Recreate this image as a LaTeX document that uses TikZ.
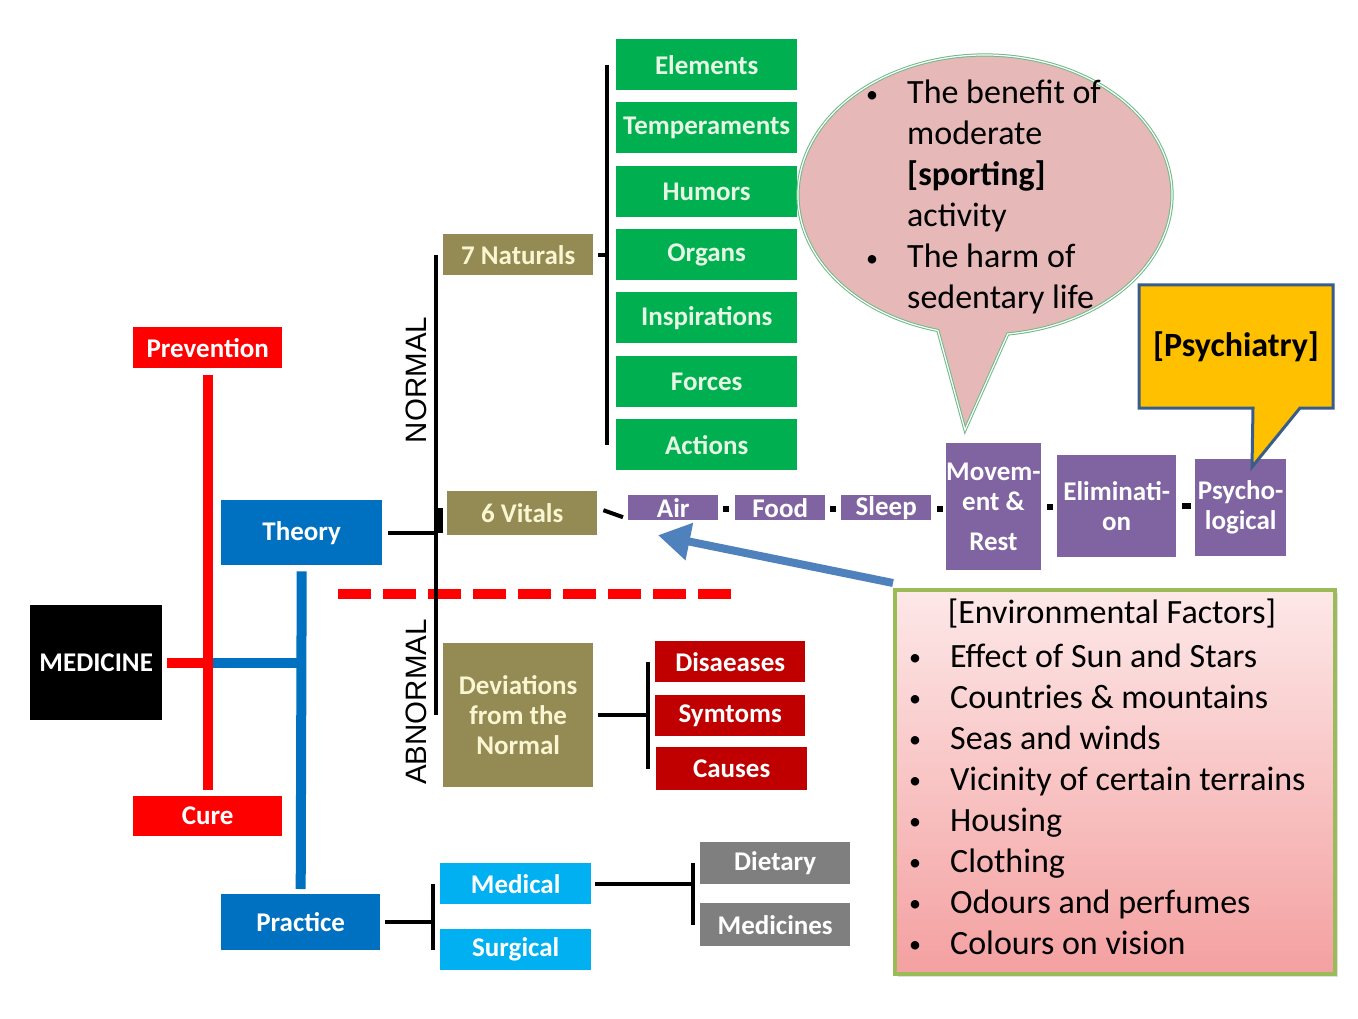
\documentclass[tikz,border=0pt]{standalone}
\usepackage{fontspec}
\setmainfont{Carlito}
\newfontfamily\arialf{Liberation Sans}
\usetikzlibrary{arrows.meta,calc,shadows}

\definecolor{cred}{HTML}{FF0000}
\definecolor{cblue}{HTML}{0070C0}
\definecolor{colive}{HTML}{948A54}
\definecolor{ccream}{HTML}{FAF6D2}
\definecolor{cgreen}{HTML}{00B050}
\definecolor{cmint}{HTML}{E6F7E4}
\definecolor{cpurple}{HTML}{8064A2}
\definecolor{cdred}{HTML}{C00000}
\definecolor{ccyan}{HTML}{00B0F0}
\definecolor{cgrey}{HTML}{7F7F7F}
\definecolor{cyellow}{HTML}{FFC000}
\definecolor{cyborder}{HTML}{385D8A}
\definecolor{cbubble}{HTML}{E6B9B8}
\definecolor{cbubbord}{HTML}{6DBA86}
\definecolor{cenvbord}{HTML}{9BBB59}
\definecolor{cenvtop}{HTML}{FDE8E8}
\definecolor{cenvbot}{HTML}{F4A0A0}
\definecolor{carrow}{HTML}{4F81BD}

\newcommand{\smbul}{\raisebox{1.5pt}{\fontsize{24}{24}\selectfont\textbullet}}

\tikzset{
 lbl/.style={font=\bfseries\fontsize{27}{30}\selectfont, inner sep=0pt, anchor=north west, align=center},
 blackbox/.style={lbl, fill=black, text=white},
 redbox/.style={lbl, fill=cred, text=white},
 bluebox/.style={lbl, fill=cblue, text=white},
 olivebox/.style={lbl, fill=colive, text=ccream},
 greenbox/.style={lbl, fill=cgreen, text=cmint, minimum width=181pt, minimum height=51pt},
 purplebox/.style={lbl, fill=cpurple, text=white},
 dredbox/.style={lbl, fill=cdred, text=white, minimum width=150pt},
 cyanbox/.style={lbl, fill=ccyan, text=white, minimum width=151pt, minimum height=41pt},
 greybox/.style={lbl, fill=cgrey, text=white, minimum width=150pt},
 redline/.style={draw=cred, line width=10pt},
 blueline/.style={draw=cblue, line width=10pt},
 blackline/.style={draw=black, line width=4pt},
 dotlink/.style={draw=black, line width=6pt},
 bodytext/.style={font=\fontsize{34}{41}\selectfont, inner sep=0pt},
 sidelabel/.style={font=\arialf\fontsize{29.5}{30}\selectfont, inner sep=0pt, rotate=90},
}

\begin{document}
\begin{tikzpicture}[x=1pt,y=-1pt]
\useasboundingbox (0,0) rectangle (1358,1019);
\fill[white] (0,0) rectangle (1358,1019);

% ---------- left part ----------
\node[blackbox, minimum width=132pt, minimum height=115pt] (med) at (30,605) {MEDICINE};
\node[redbox, minimum width=149pt, minimum height=41pt] (prev) at (133,327) {Prevention};
\node[redbox, minimum width=149pt, minimum height=40pt] (cure) at (133,796) {Cure};
\node[bluebox, minimum width=161pt, minimum height=65pt] (theory) at (221,500) {Theory};
\node[bluebox, minimum width=159pt, minimum height=56pt] (practice) at (221,894) {Practice};

\draw[redline] ([yshift=-7pt]prev.south) -- ([yshift=6pt]cure.north);
\draw[redline] ([xshift=5pt]med.east) -- ([xshift=5pt]med.east -| prev.south);
\draw[blueline] ([xshift=5pt]med.east -| prev.south) -- ([xshift=4pt]med.east -| theory.south);
\draw[blueline] ([yshift=-6pt]theory.south) -- ([yshift=5pt]practice.north);

% ---------- middle: normal / abnormal ----------
\node[olivebox, minimum width=150pt, minimum height=41pt] (nat) at (443,234) {7 Naturals};
\node[olivebox, minimum width=150pt, minimum height=44pt] (vit) at (447,491) {6 Vitals};
\node[olivebox, minimum width=150pt, minimum height=144pt] (dev) at (443,643) {Deviations\\from the\\Normal};

\node[sidelabel] (normal) at (416,380) {NORMAL};
\node[sidelabel] (abnormal) at (416,702) {ABNORMAL};

\coordinate (sepL) at (338,594);
\coordinate (sepR) at (731,594);
\draw[draw=cred, line width=10pt, dash pattern=on 33pt off 12pt] (sepL) -- (sepR);

\coordinate (ntop) at ([xshift=-7pt]nat.west);
\coordinate (nbot) at (ntop |- 0,715);
\draw[blackline] (ntop) -- (nbot);
\draw[blackline] ([xshift=6pt]theory.east) -- (theory.east -| ntop);
\draw[black, line width=6pt] ([xshift=-7pt,yshift=5pt]vit.west) -- ([xshift=-7pt,yshift=-20pt]vit.west);

% seven naturals
\node[greenbox] (elem) at (616,39) {Elements};
\node[greenbox] (temp) at (616,102) {Temperaments};
\node[greenbox] (hum) at (616,166) {Humors};
\node[greenbox] (org) at (616,229) {Organs};
\node[greenbox] (insp) at (616,292) {Inspirations};
\node[greenbox] (forc) at (616,356) {Forces};
\node[greenbox] (act) at (616,419) {Actions};
\coordinate (b7top) at ([xshift=-9pt]elem.west);
\coordinate (b7bot) at ([xshift=-9pt]act.west);
\draw[blackline] (b7top) -- (b7bot);
\draw[blackline] ([xshift=5pt]nat.east) -- (nat.east -| b7top);

% six vitals
\node[purplebox, minimum width=90pt, minimum height=25pt] (air) at (628,495) {Air};
\node[purplebox, minimum width=90pt, minimum height=25pt] (food) at (735,495) {Food};
\node[purplebox, minimum width=90pt, minimum height=25pt] (sleep) at (841,495) {Sleep};
\node[purplebox, minimum width=91pt, minimum height=127pt] (mov) at (946,443) {Movem-\\ent \&\\[10pt]Rest};
\node[purplebox, minimum width=119pt, minimum height=102pt] (elim) at (1057,455) {Eliminati-\\on};
\node[purplebox, minimum width=91pt, minimum height=97pt] (psy) at (1195,459) {Psycho-\\logical};

\draw[blackline] ([xshift=6pt,yshift=3pt]vit.east) -- ([xshift=-5pt,yshift=-9.5pt]air.west);
\draw[dotlink, shorten <=5pt, shorten >=6pt] ([yshift=-1pt]air.east) -- ([yshift=-1pt]food.west);
\draw[dotlink, shorten <=5pt, shorten >=5pt] ([yshift=-1pt]food.east) -- ([yshift=-1pt]sleep.west);
\draw[dotlink, shorten <=6pt, shorten >=3pt] ([yshift=-1pt]sleep.east) -- ([yshift=-1pt]sleep.east -| mov.west);
\draw[dotlink, shorten <=6pt, shorten >=4pt] (mov.east) -- (mov.east -| elim.west);
\draw[dotlink, shorten <=6pt, shorten >=4pt] (elim.east) -- (elim.east -| psy.west);

% abnormal
\node[dredbox, minimum height=41pt] (dis) at (655,641) {Disaeases};
\node[dredbox, minimum height=41pt] (sym) at (655,695) {Symtoms};
\node[dredbox, minimum height=43pt, minimum width=151pt] (cau) at (656,747) {Causes};
\coordinate (bdtop) at ([xshift=-7pt]dis.west);
\coordinate (bdbot) at (bdtop |- cau.west);
\draw[blackline] (bdtop) -- (bdbot);
\draw[blackline] ([xshift=5pt]dev.east) -- (dev.east -| bdtop);

% practice
\node[cyanbox] (medi) at (440,863) {Medical};
\node[cyanbox] (surg) at (440,929) {Surgical};
\node[greybox, minimum height=42pt] (diet) at (700,842) {Dietary};
\node[greybox, minimum height=43pt] (mdc) at (700,903) {Medicines};
\coordinate (bptop) at ([xshift=-7pt]medi.west);
\coordinate (bpbot) at ([xshift=-7pt]surg.west);
\draw[blackline] (bptop) -- (bpbot);
\draw[blackline] ([xshift=5pt]practice.east) -- (practice.east -| bptop);
\coordinate (bmtop) at ([xshift=-7pt]diet.west);
\coordinate (bmbot) at ([xshift=-7pt]mdc.west);
\draw[blackline] (bmtop) -- (bmbot);
\draw[blackline] ([xshift=4pt]medi.east) -- (medi.east -| bmtop);

% ---------- speech bubble ----------
\coordinate (bubc) at (985,195);
\coordinate (bubtip) at (965,430);
\filldraw[fill=cbubble, draw=cbubbord, line width=1pt, double=white, double distance=1.2pt]
  (bubc) ++(104.6:187 and 140) arc[start angle=104.6, end angle=443, x radius=187, y radius=140]
  -- (bubtip) -- cycle;
\node[bodytext, anchor=base west] (bubtext) at (866,104) {%
\begin{tabular}[t]{@{}p{41pt}@{}l@{}}
\smbul & The benefit of\\
 & moderate\\
 & \textbf{[sporting]}\\
 & activity\\
\smbul & The harm of\\
 & sedentary life
\end{tabular}};

% ---------- psychiatry callout ----------
\filldraw[fill=cyellow, draw=cyborder, line width=3pt, line join=miter]
  (1139,285) -- (1333,285) -- (1333,408) -- (1300,408) -- (1252,467) -- (1253,408) -- (1139,408) -- cycle;
\node[font=\bfseries\fontsize{34}{36}\selectfont, inner sep=0pt] (psych) at (1236,347) {[Psychiatry]};

% ---------- environmental factors ----------
\node[anchor=north west, minimum width=440pt, minimum height=384pt, inner sep=0pt,
      draw=cenvbord, line width=4pt, top color=cenvtop, bottom color=cenvbot,
      drop shadow={opacity=0.25, shadow xshift=3pt, shadow yshift=-3pt}] (env) at (893,588) {};
\node[bodytext] (envtitle) at (1112,614) {[Environmental Factors]};
\node[bodytext, anchor=base west] (envlist) at (909,667) {%
\begin{tabular}[t]{@{}p{41pt}@{}l@{}}
\smbul & Effect of Sun and Stars\\
\smbul & Countries \& mountains\\
\smbul & Seas and winds\\
\smbul & Vicinity of certain terrains\\
\smbul & Housing\\
\smbul & Clothing\\
\smbul & Odours and perfumes\\
\smbul & Colours on vision
\end{tabular}};

\coordinate (vtip) at ([xshift=30pt,yshift=-27.5pt]air.west);
\draw[carrow, line width=8pt, -{Triangle[length=32pt,width=36pt]}] ([yshift=5pt]env.north west) -- (vtip);

\end{tikzpicture}
\end{document}
